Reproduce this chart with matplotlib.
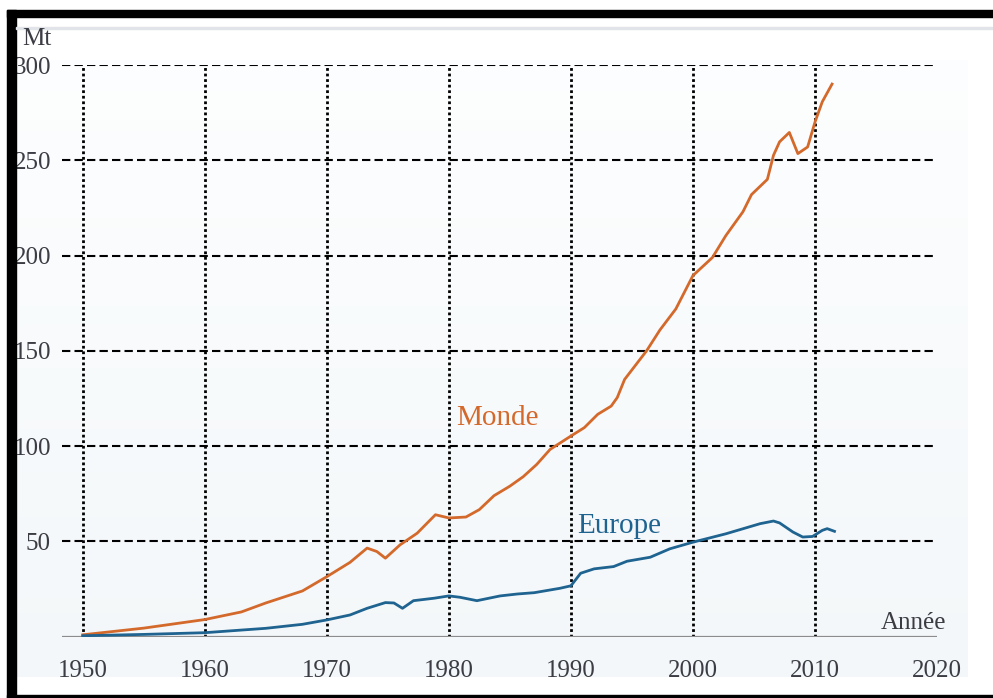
import numpy as np
import matplotlib
matplotlib.use('Agg')
import matplotlib.pyplot as plt
from matplotlib.patches import Rectangle

plt.rcParams['font.family'] = ['Liberation Serif', 'DejaVu Serif']

# values (Mt)
years_monde = [1950, 1955, 1960, 1963, 1965, 1968, 1970, 1971.9, 1973.3, 1974.1,
               1974.8, 1976.0, 1977.4, 1978.9, 1980.0, 1981.4, 1982.5, 1983.7,
               1985.0, 1986.1, 1987.2, 1988.3, 1990.0, 1991.1, 1992.2, 1993.3,
               1993.8, 1994.4, 1996.2, 1997.3, 1998.6, 2000.0, 2001.6, 2002.7,
               2004.1, 2004.8, 2006.1, 2006.6, 2007.1, 2007.9, 2008.6, 2009.4,
               2010.0, 2010.6, 2011.4]
monde = [1, 4.5, 9, 13, 17.7, 24, 31.5, 39, 46.5, 44.7,
         41.2, 48.2, 54.3, 64, 62.3, 62.8, 66.7, 74,
         79, 84, 90.4, 98.3, 105.3, 109.7, 116.7, 121,
         125.5, 135, 150, 161, 172, 189.5, 199, 210.5,
         223, 232, 240, 252.6, 259.7, 264.6, 253.5, 257,
         270, 280.7, 290]

years_europe = [1950, 1955, 1960, 1965, 1968, 1970, 1971.9, 1973.3, 1974.8, 1975.5,
                1976.2, 1977.1, 1978.8, 1980.0, 1980.9, 1982.3, 1984.2, 1985.6,
                1987.0, 1989.1, 1990.0, 1990.8, 1991.9, 1993.5, 1994.6, 1996.5,
                1998.1, 2000.0, 2002.7, 2005.5, 2006.6, 2007.1, 2008.2, 2009.0,
                2009.8, 2010.6, 2011.0, 2011.6]
europe = [0.5, 1.2, 2.1, 4.4, 6.5, 8.8, 11.4, 14.9, 17.9, 17.7,
          14.9, 18.9, 20.2, 21.4, 20.7, 18.9, 21.4, 22.4,
          23.1, 25.4, 26.7, 33.3, 35.6, 36.8, 39.6, 41.7,
          46.1, 49.6, 54, 59.3, 60.7, 59.7, 54.9, 52.3,
          52.6, 55.8, 56.7, 55.3]

xticks = [1950, 1960, 1970, 1980, 1990, 2000, 2010, 2020]
yticks = [50, 100, 150, 200, 250, 300]

W, H = 993, 698
fig = plt.figure(figsize=(W / 100, H / 100), dpi=100)


def fx(px):
    return px / W


def fy(py):
    return 1 - py / H


# pale background of the chart panel (light vertical gradient)
bg = fig.add_axes([fx(16), fy(677), fx(968) - fx(16), fy(60) - fy(677)])
grad = np.linspace(0, 1, 256).reshape(-1, 1)
top_c = np.array([0.992, 0.995, 0.997])
bot_c = np.array([0.953, 0.970, 0.978])
img = top_c + (bot_c - top_c) * grad[:, :, None]
bg.imshow(img, aspect='auto', extent=[0, 1, 0, 1], origin='upper')
bg.axis('off')

# frame: left, top and bottom black bars, thin grey rule under the top
fig.patches.append(Rectangle((fx(7), 0), fx(8.5), fy(10),
                             transform=fig.transFigure, color='black', zorder=10))
fig.patches.append(Rectangle((fx(7), fy(17)), 1, fy(10) - fy(17),
                             transform=fig.transFigure, color='black', zorder=10))
fig.patches.append(Rectangle((fx(7), 0), 1, fy(695), transform=fig.transFigure,
                             color='black', zorder=10))
fig.patches.append(Rectangle((fx(16), fy(29)), 1, fy(27) - fy(29),
                             transform=fig.transFigure, color='#e1e4e9', zorder=10))

ax = fig.add_axes([fx(62), fy(636.7), fx(937) - fx(62), fy(65) - fy(636.7)])
ax.patch.set_alpha(0)
ax.set_xlim(1948.3, 2020)
ax.set_ylim(0, 300)

for y in yticks:
    ax.axhline(y, color='black', lw=1.5, ls=(0, (4, 2)), zorder=1)
for x in xticks[:-1]:
    ax.axvline(x, color='black', lw=2.0, ls=(0, (1, 1)), zorder=1)
ax.axhline(0, color='#8c8c8c', lw=1.6, zorder=1)

ax.plot(years_monde, monde, color='#d4692c', lw=2.0, zorder=3, solid_joinstyle='round')
ax.plot(years_europe, europe, color='#1f6390', lw=2.0, zorder=3, solid_joinstyle='round')

ax.text(1980.6, 115, 'Monde', color='#d4692c', fontsize=21, va='center', ha='left')
ax.text(1990.5, 58, 'Europe', color='#1f6390', fontsize=21, va='center', ha='left')

for s in ax.spines.values():
    s.set_visible(False)
ax.set_xticks(xticks)
ax.set_yticks(yticks)
ax.tick_params(length=0, labelsize=18, labelcolor='#3c3c44')
ax.tick_params(axis='x', pad=17)
ax.tick_params(axis='y', pad=8)

fig.text(fx(22), fy(39), 'Mt', fontsize=18, color='#3c3c44', va='center', ha='left',
         zorder=11)
fig.text(fx(946), fy(623), 'Année', fontsize=18, color='#3c3c44', va='center', ha='right')

fig.savefig('out.png', dpi=100)
